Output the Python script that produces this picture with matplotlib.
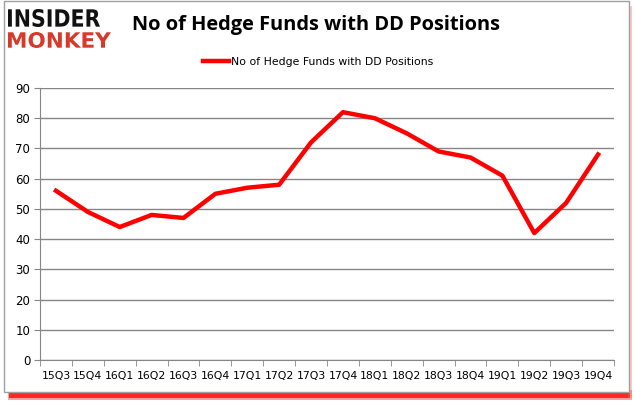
import matplotlib.pyplot as plt
import numpy as np
from matplotlib.font_manager import FontProperties
from matplotlib.patches import PathPatch, Rectangle
from matplotlib.text import TextPath
from matplotlib.transforms import Affine2D

QUARTERS = ["15Q3", "15Q4", "16Q1", "16Q2", "16Q3", "16Q4", "17Q1", "17Q2", "17Q3",
            "17Q4", "18Q1", "18Q2", "18Q3", "18Q4", "19Q1", "19Q2", "19Q3", "19Q4"]
HEDGE_FUNDS = [56, 49, 44, 48, 47, 55, 57, 58, 72, 82, 80, 75, 69, 67, 61, 42, 52, 68]
Y_TICKS = [0, 10, 20, 30, 40, 50, 60, 70, 80, 90]

GRID = "#868686"
W, H = 635, 405

fig = plt.figure(figsize=(W / 100, H / 100), dpi=100)

# background layer in pixel coordinates (frame, shadow, logo)
bg = fig.add_axes([0, 0, 1, 1])
bg.set_xlim(0, W)
bg.set_ylim(H, 0)
bg.axis("off")
bg.add_patch(Rectangle((8, 390), 624, 10, color="#ff3030", alpha=0.45, lw=0))
bg.add_patch(Rectangle((9, 391), 621, 7, color="#ff0000", alpha=0.75, lw=0))
bg.add_patch(Rectangle((628, 6), 4, 392, color="#ff6060", alpha=0.35, lw=0))
bg.add_patch(Rectangle((4, 1), 625, 391, facecolor="white", edgecolor="#a0a0a0", lw=1.0))


def logo_word(word, x0, y0, width, height, color):
    path = TextPath((0, 0), word, size=10, prop=FontProperties(family="DejaVu Sans", weight="bold"))
    ext = path.get_extents()
    tr = (Affine2D().translate(-ext.x0, -ext.y0)
          .scale(width / ext.width, -height / ext.height)
          .translate(x0, y0 + height))
    bg.add_patch(PathPatch(tr.transform_path(path), facecolor=color, lw=0))


logo_word("INSIDER", 8, 9, 92, 18, "#111111")
logo_word("MONKEY", 8, 32, 103, 16, "#d63a2a")

ax = fig.add_axes([40 / W, 1 - 360 / H, 574 / W, 272 / H])
x = np.arange(len(QUARTERS))
ax.plot(x, HEDGE_FUNDS, color="#ff0000", linewidth=3.2,
        label="No of Hedge Funds with DD Positions")

ax.set_xlim(-0.5, len(QUARTERS) - 0.5)
ax.set_ylim(0, 90)
ax.set_yticks(Y_TICKS)
ax.set_xticks(x)
ax.set_xticklabels(QUARTERS, fontsize=7.8)
ax.set_xticks(np.arange(-0.5, len(QUARTERS), 1.0), minor=True)
ax.tick_params(axis="x", which="major", length=0, pad=8)
ax.tick_params(axis="x", which="minor", length=4, color=GRID)
ax.tick_params(axis="y", length=4, color=GRID, labelsize=8.5, pad=3)
ax.grid(axis="y", color=GRID, linewidth=1.0)
ax.set_axisbelow(True)
ax.patch.set_alpha(0)
for side in ["top", "right"]:
    ax.spines[side].set_visible(False)
ax.spines["left"].set_color(GRID)
ax.spines["bottom"].set_color(GRID)

fig.text(316 / W, 1 - 25 / H, "No of Hedge Funds with DD Positions", ha="center", va="center",
         fontsize=14.4, fontweight="bold", family="Open Sans")
ax.legend(loc="center", bbox_to_anchor=(0.484, 1.0 + 26 / 272), frameon=False, fontsize=7.8,
          handlelength=2.4, handletextpad=0.15, borderpad=0)

fig.savefig("out.png", dpi=100)
